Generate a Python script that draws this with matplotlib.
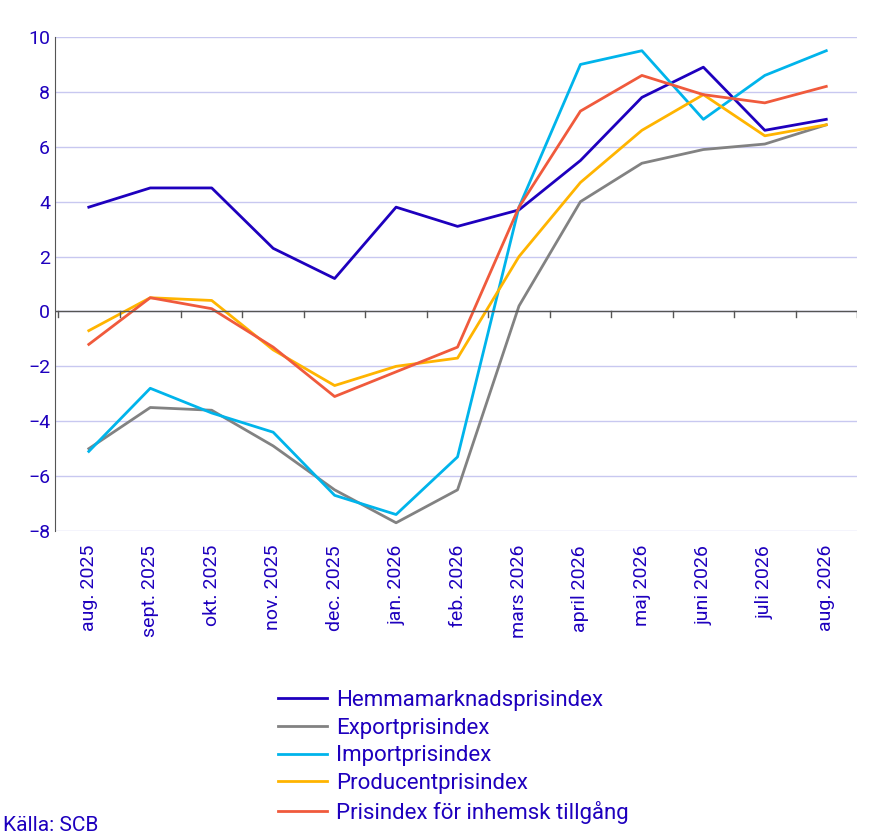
import matplotlib.pyplot as plt

plt.rcParams['font.family'] = ['Roboto', 'DejaVu Sans']

manader = ["aug. 2025", "sept. 2025", "okt. 2025", "nov. 2025", "dec. 2025", "jan. 2026",
           "feb. 2026", "mars 2026", "april 2026", "maj 2026", "juni 2026", "juli 2026", "aug. 2026"]
hemma = [3.8, 4.5, 4.5, 2.3, 1.2, 3.8, 3.1, 3.7, 5.5, 7.8, 8.9, 6.6, 7.0]
export = [-5.0, -3.5, -3.6, -4.9, -6.5, -7.7, -6.5, 0.2, 4.0, 5.4, 5.9, 6.1, 6.8]
importp = [-5.1, -2.8, -3.7, -4.4, -6.7, -7.4, -5.3, 3.8, 9.0, 9.5, 7.0, 8.6, 9.5]
producent = [-0.7, 0.5, 0.4, -1.4, -2.7, -2.0, -1.7, 2.0, 4.7, 6.6, 7.9, 6.4, 6.8]
inhemsk = [-1.2, 0.5, 0.1, -1.3, -3.1, -2.2, -1.3, 3.8, 7.3, 8.6, 7.9, 7.6, 8.2]

serier = [
    ("Hemmamarknadsprisindex", hemma, "#1e00be"),
    ("Exportprisindex", export, "#828282"),
    ("Importprisindex", importp, "#00b4eb"),
    ("Producentprisindex", producent, "#ffb400"),
    ("Prisindex för inhemsk tillgång", inhemsk, "#f05a3c"),
]

textfarg = "#1e00be"
fig = plt.figure(figsize=(8.7, 8.35), dpi=100)
ax = fig.add_axes([55 / 870, 1 - 531 / 835, 802 / 870, 494 / 835])

x = list(range(len(manader)))
for namn, v, c in serier:
    ax.plot(x, v, color=c, linewidth=2, label=namn)

ax.set_ylim(-8, 10)
ax.set_yticks(range(-8, 11, 2))
ax.set_xlim(-0.55, 12.5)
ax.set_xticks(x)
ax.set_xticklabels(manader, rotation=90, fontsize=14, color=textfarg)
ax.tick_params(axis='y', labelsize=14, colors=textfarg, length=0)
ax.tick_params(axis='x', length=0, pad=10)
ax.grid(axis='y', color="#c8c8f0", linewidth=1)
for s in ["top", "right", "bottom"]:
    ax.spines[s].set_visible(False)
ax.spines["left"].set_color("#555555")
ax.axhline(0, color="#555555", linewidth=1)
for xi in x:
    ax.plot([xi + 0.5, xi + 0.5], [0, -0.2], color="#555555", linewidth=1)
ax.plot([-0.5, -0.5], [0, -0.2], color="#555555", linewidth=1)

leg = fig.legend(loc="upper left", bbox_to_anchor=(258 / 870, 1 - 670 / 835), frameon=False,
                 fontsize=16, handlelength=2.2, handletextpad=0.4, labelspacing=0.3)
for t in leg.get_texts():
    t.set_color(textfarg)

fig.text(0.003, 0.005, "Källa: SCB", fontsize=15, color=textfarg)
fig.savefig("out.png")
